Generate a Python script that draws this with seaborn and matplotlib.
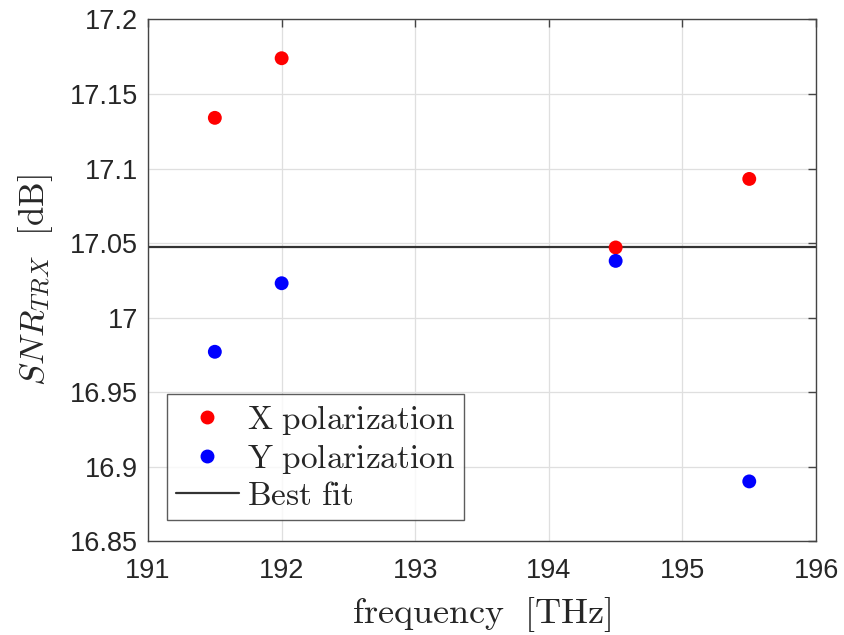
import matplotlib
matplotlib.use("Agg")
import matplotlib.pyplot as plt
import seaborn as sns
import pandas as pd
from matplotlib.lines import Line2D

frequency = [191.5, 192.0, 194.5, 195.5]
snr_x = [17.134, 17.174, 17.047, 17.093]
snr_y = [16.977, 17.023, 17.038, 16.890]
best_fit = 17.047
x_ticks = [191, 192, 193, 194, 195, 196]
y_ticks = [16.85, 16.9, 16.95, 17.0, 17.05, 17.1, 17.15, 17.2]
y_ticklabels = ["16.85", "16.9", "16.95", "17", "17.05", "17.1", "17.15", "17.2"]

sns.set_theme(style="white")
plt.rcParams["font.family"] = ["Liberation Sans", "DejaVu Sans"]
plt.rcParams["mathtext.fontset"] = "cm"

df = pd.concat([
    pd.DataFrame({"f": frequency, "snr": snr_x, "pol": "X polarization"}),
    pd.DataFrame({"f": frequency, "snr": snr_y, "pol": "Y polarization"}),
])

fig = plt.figure(figsize=(8.44, 6.35), dpi=100)
ax = fig.add_axes([0.1754, 0.148, 0.7915, 0.8213])

sns.scatterplot(data=df, x="f", y="snr", hue="pol",
                palette={"X polarization": "#ff0000", "Y polarization": "#0000ff"},
                s=100, linewidth=0, ax=ax, legend=False, zorder=3)
ax.axhline(best_fit, color="#333333", lw=1.6, zorder=2)

ax.set_xlim(191, 196)
ax.set_ylim(16.85, 17.2)
ax.set_xticks(x_ticks)
ax.set_xticklabels([str(t) for t in x_ticks])
ax.set_yticks(y_ticks)
ax.set_yticklabels(y_ticklabels)
ax.grid(True, color="#dfdfdf", lw=0.9)
ax.set_axisbelow(True)
for sp in ax.spines.values():
    sp.set_color("#444444")
    sp.set_linewidth(1.0)
ax.tick_params(direction="in", length=6, width=1.0, color="#444444",
               top=True, right=True, labelsize=19.5, labelcolor="#262626")
ax.tick_params(axis="x", pad=12)
ax.tick_params(axis="y", pad=7)

ax.set_xlabel(r"$\mathrm{frequency}\ \ \mathrm{[THz]}$", fontsize=26, color="#262626", labelpad=8)
ax.set_ylabel(r"$SNR_{TRX}\ \ \mathrm{[dB]}$", fontsize=25, color="#262626", labelpad=11)

handles = [
    Line2D([], [], marker="o", ls="", color="#ff0000", markersize=9),
    Line2D([], [], marker="o", ls="", color="#0000ff", markersize=9),
    Line2D([], [], color="#333333", lw=1.6),
]
labels = [r"$\mathrm{X\ polarization}$", r"$\mathrm{Y\ polarization}$", r"$\mathrm{Best\ fit}$"]
leg = ax.legend(handles, labels, loc="lower left", bbox_to_anchor=(0.029, 0.04),
                fontsize=24, frameon=True, fancybox=False, edgecolor="#333333",
                handlelength=1.9, handletextpad=0.25, borderpad=0.25, labelspacing=0.15,
                borderaxespad=0)
leg.get_frame().set_linewidth(1.0)

fig.savefig("out.png", dpi=100)
